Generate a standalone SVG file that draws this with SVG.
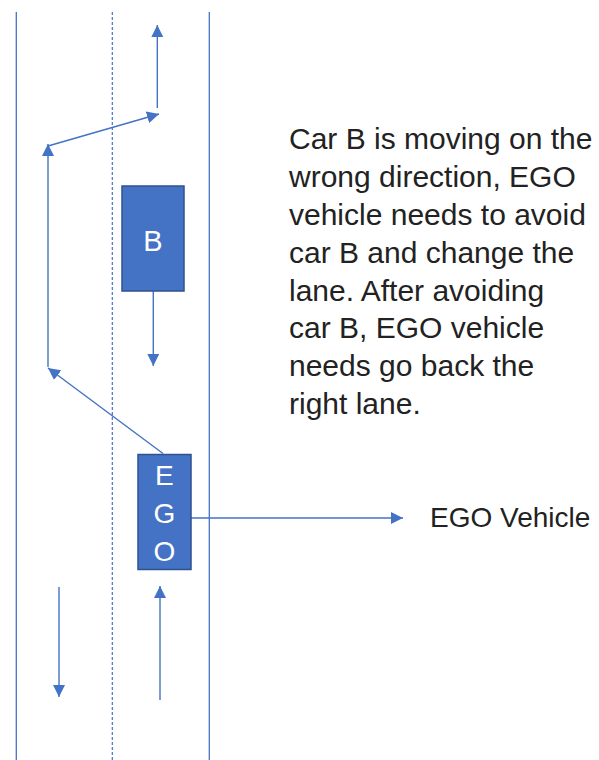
<svg xmlns="http://www.w3.org/2000/svg" width="599" height="760" viewBox="0 0 599 760">
<style>
.lane{stroke:#4472C4;stroke-width:1.3;fill:none}
.dash{stroke:#4472C4;stroke-width:1.2;stroke-dasharray:3 2;fill:none}
.arr{stroke:#4472C4;stroke-width:1.4;fill:none;marker-end:url(#ah)}
.car{fill:#4472C4;stroke:#2F528F;stroke-width:1.5}
.ct{font-family:"Liberation Sans",Arial,sans-serif;fill:#FFFFFF;text-anchor:middle}
.tx{font-family:"Liberation Sans",Arial,sans-serif;fill:#222222}
</style>
<defs>
<marker id="ah" markerUnits="userSpaceOnUse" markerWidth="12" markerHeight="12" viewBox="0 0 10 10" refX="10" refY="5" orient="auto">
<path d="M0,0 L10,5 L0,10 Z" fill="#4472C4"/>
</marker>
</defs>
<g id="road">
<line class="lane" x1="16.3" y1="12" x2="16.3" y2="760"/>
<line class="dash" x1="112.3" y1="12" x2="112.3" y2="760"/>
<line class="lane" x1="209.3" y1="12" x2="209.3" y2="760"/>
</g>
<g id="connectors">
<line class="arr" x1="157.3" y1="108" x2="157.3" y2="25"/>
<line class="arr" x1="48" y1="146" x2="159" y2="114"/>
<line class="arr" x1="48" y1="367" x2="48" y2="144"/>
<line class="arr" x1="163" y1="453.5" x2="48" y2="368"/>
<line class="arr" x1="153.3" y1="291" x2="153.3" y2="366"/>
<line class="arr" x1="59" y1="587" x2="59" y2="697"/>
<line class="arr" x1="160" y1="700" x2="160" y2="586"/>
<line class="arr" x1="191" y1="518" x2="403" y2="518"/>
</g>
<g id="carB">
<rect class="car" x="122" y="186" width="62" height="105"/>
<text class="ct" x="153" y="251" font-size="29">B</text>
</g>
<g id="ego">
<rect class="car" x="138" y="454.5" width="53" height="115"/>
<text class="ct" x="164.3" y="485" font-size="28">E</text>
<text class="ct" x="164.3" y="523" font-size="28">G</text>
<text class="ct" x="164.3" y="561" font-size="28">O</text>
</g>
<g id="egoLabel">
<text class="tx" x="430" y="527" font-size="28">EGO Vehicle</text>
</g>
<g id="description">
<text class="tx" x="289" font-size="30">
<tspan x="289" y="149">Car B is moving on the</tspan>
<tspan x="289" y="187">wrong direction, EGO</tspan>
<tspan x="289" y="225">vehicle needs to avoid</tspan>
<tspan x="289" y="263">car B and change the</tspan>
<tspan x="289" y="301">lane. After avoiding</tspan>
<tspan x="289" y="338">car B, EGO vehicle</tspan>
<tspan x="289" y="376">needs go back the</tspan>
<tspan x="289" y="414">right lane.</tspan>
</text>
</g>
</svg>
